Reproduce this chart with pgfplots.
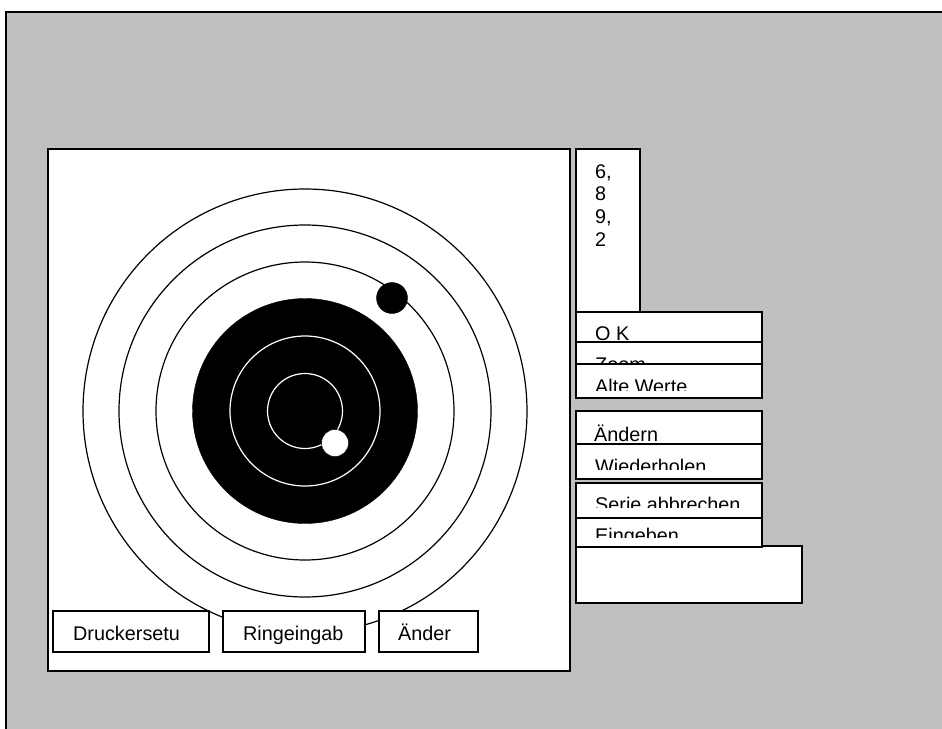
\documentclass[border=0pt]{standalone}
\usepackage{pgfplots}
\pgfplotsset{compat=1.18}
\usepackage{fontspec}
\setmainfont{Liberation Sans}
\definecolor{winbg}{RGB}{192,192,192}
\newcommand{\btn}[4]{\addplot[draw=black, line width=1.3pt, fill=white, line join=miter] coordinates {(#1,#2) (#3,#2) (#3,#4) (#1,#4)} -- cycle;}
\newcommand{\cover}[4]{\addplot[draw=none, fill=white] coordinates {(#1,#2) (#3,#2) (#3,#4) (#1,#4)} -- cycle;}
\newcommand{\ring}[3]{\addplot[only marks, mark=o, mark size=#2, mark options={draw=#3, line width=1.2pt}] coordinates {(305,411)};}
\newcommand{\lbl}[3]{\node[anchor=base west, inner sep=0pt, font=\fontsize{19.8}{23}\selectfont] at (axis cs:#1,#2) {#3};}
\begin{document}
\begin{tikzpicture}
\begin{axis}[
  width=942pt, height=728pt, scale only axis,
  xmin=0, xmax=942, ymin=0, ymax=728, y dir=reverse,
  hide axis, clip=true, clip marker paths=true,
]
% page background
\addplot[draw=none, fill=white] coordinates {(0,0) (942,0) (942,728) (0,728)} -- cycle;
% window
\addplot[draw=black, line width=1.5pt, fill=winbg] coordinates {(6,12) (960,12) (960,740) (6,740)} -- cycle;
% target panel
\addplot[draw=black, line width=1.5pt, fill=white] coordinates {(48,149) (570,149) (570,671) (48,671)} -- cycle;
% rings
\ring{305}{222}{black}
\ring{305}{186}{black}
\ring{305}{149}{black}
\addplot[only marks, mark=*, mark size=112.5, mark options={fill=black, draw=none}] coordinates {(305,411)};
\ring{305}{75}{white}
\ring{305}{37.5}{white}
% shots
\addplot[only marks, mark=*, mark size=15.5, mark options={fill=black, draw=none}] coordinates {(392,298)};
\addplot[only marks, mark=*, mark size=13.5, mark options={fill=white, draw=none}] coordinates {(335,443)};
% bottom buttons
\btn{53}{611}{209}{652}
\btn{223}{611}{365}{652}
\btn{379}{611}{478}{652}
\lbl{73}{640}{Druckersetu}
\lbl{243}{640}{Ringeingab}
\lbl{398}{640}{Änder}
% number panel
\btn{576}{149}{640}{312}
\lbl{595}{178}{6,}
\lbl{595}{200.5}{8}
\lbl{595}{223}{9,}
\lbl{595}{246}{2}
% right buttons
\btn{576}{312}{762}{342}
\lbl{595}{340.5}{O K}
\btn{576}{342}{762}{364}
\lbl{595}{371}{Zoom}
\btn{576}{364}{762}{398}
\lbl{595}{393}{Alte Werte}
\cover{578}{391}{760}{396.5}
\btn{576}{411}{762}{444}
\lbl{594}{441}{Ändern}
\btn{576}{444}{762}{479}
\lbl{595}{473}{Wiederholen}
\cover{578}{470}{760}{477.5}
\btn{576}{483}{762}{518}
\lbl{595}{511}{Serie abbrechen}
\cover{578}{508}{760}{516.5}
\btn{576}{546}{802}{603}
\btn{576}{518}{762}{547}
\lbl{595}{542}{Eingeben}
\cover{578}{538}{760}{545.5}
\end{axis}
\end{tikzpicture}
\end{document}
